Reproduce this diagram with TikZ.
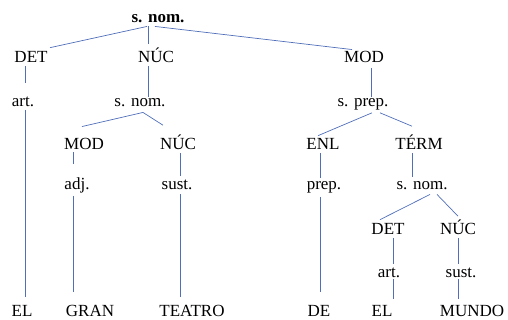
\documentclass[tikz,border=0pt]{standalone}
\usepackage{fontspec}
\setmainfont{Liberation Serif}
\usetikzlibrary{arrows}

\definecolor{ramablue}{RGB}{80,110,185}

\begin{document}
\begin{tikzpicture}[x=1pt, y=-1pt,
    lab/.style={anchor=base, inner sep=1pt, font=\fontsize{17}{20}\selectfont},
    link/.style={ramablue, line width=0.7pt}]
    \useasboundingbox (0,0) rectangle (508,320);

    % Raiz
    \node[lab, font=\fontsize{17}{20}\selectfont\bfseries] (s0) at (158,23) {s. nom.};

    % Primer nivel
    \node[lab] (det1) at (31,63) {DET};
    \node[lab] (nuc1) at (156,63) {NÚC};
    \node[lab] (mod1) at (364,63) {MOD};

    \node[lab] (art1) at (23,107) {art.};
    \node[lab] (snom2) at (140,107) {s. nom.};
    \node[lab] (sprep) at (363,107) {s. prep.};

    % Segundo nivel
    \node[lab] (mod2) at (84,150) {MOD};
    \node[lab] (nuc2) at (178,150) {NÚC};
    \node[lab] (enl) at (323,150) {ENL};
    \node[lab] (term) at (419,150) {TÉRM};

    \node[lab] (adj) at (77,190) {adj.};
    \node[lab] (sust1) at (177,190) {sust.};
    \node[lab] (prep) at (324,190) {prep.};
    \node[lab] (snom3) at (422,190) {s. nom.};

    % Tercer nivel
    \node[lab] (det2) at (388,235) {DET};
    \node[lab] (nuc3) at (458,235) {NÚC};
    \node[lab] (art2) at (389,277) {art.};
    \node[lab] (sust2) at (461,277) {sust.};

    % Palabras
    \node[lab] (w1) at (22,316) {EL};
    \node[lab] (w2) at (90,316) {GRAN};
    \node[lab] (w3) at (192,316) {TEATRO};
    \node[lab] (w4) at (319,316) {DE};
    \node[lab] (w5) at (382,316) {EL};
    \node[lab] (w6) at (472,316) {MUNDO};

    % Ramas de la raiz
    \draw[link] ([xshift=-11pt,yshift=-2pt]s0.south) -- ([xshift=19pt,yshift=3pt]det1.north);
    \draw[link] ([xshift=-10pt,yshift=-2pt]s0.south) -- ([xshift=-8pt,yshift=3pt]nuc1.north);
    \draw[link] ([xshift=-3pt,yshift=-2pt]s0.south) -- ([xshift=-12pt,yshift=1pt]mod1.north);

    % DET - art. - EL
    \draw[link] ([xshift=-6pt,yshift=-2pt]det1.south) -- ([xshift=2pt,yshift=13pt]art1.north);
    \draw[link] ([xshift=2pt,yshift=-2pt]art1.south) -- ([xshift=3pt,yshift=7pt]w1.north);

    % NUC - s. nom.
    \draw[link] ([xshift=-8pt,yshift=-2pt]nuc1.south) -- ([xshift=8pt,yshift=1pt]snom2.north);
    \draw[link] ([xshift=3pt,yshift=-4pt]snom2.south) -- ([xshift=-2pt,yshift=11pt]mod2.north);
    \draw[link] ([xshift=3pt,yshift=-4pt]snom2.south) -- ([xshift=-15pt,yshift=9pt]nuc2.north);
    \draw[link] ([xshift=-11pt,yshift=-1pt]mod2.south) -- ([xshift=-4pt,yshift=13pt]adj.north);
    \draw[link] ([xshift=-4pt,yshift=-1pt]adj.south) -- ([xshift=-17pt,yshift=12pt]w2.north);
    \draw[link] ([xshift=2pt,yshift=-2pt]nuc2.south) -- ([xshift=3pt,yshift=3pt]sust1.north);
    \draw[link] ([xshift=3pt,yshift=-3pt]sust1.south) -- ([xshift=-12pt,yshift=7pt]w3.north);

    % MOD - s. prep.
    \draw[link] ([xshift=7pt,yshift=-4pt]mod1.south) -- ([xshift=8pt,yshift=1pt]sprep.north);
    \draw[link] ([xshift=9pt,yshift=-1pt]sprep.south) -- ([xshift=-5pt,yshift=2pt]enl.north);
    \draw[link] ([xshift=17pt,yshift=-1pt]sprep.south) -- ([xshift=-7pt,yshift=8pt]term.north);
    \draw[link] ([xshift=-3pt,yshift=-2pt]enl.south) -- ([xshift=-4pt,yshift=3pt]prep.north);
    \draw[link] ([xshift=-4pt,yshift=-2pt]prep.south) -- ([xshift=1pt,yshift=12pt]w4.north);
    \draw[link] ([xshift=-7pt,yshift=-2pt]term.south) -- ([xshift=-10pt,yshift=4pt]snom3.north);
    \draw[link] ([xshift=8pt,yshift=-3pt]snom3.south) -- ([xshift=-8pt,yshift=3pt]det2.north);
    \draw[link] ([xshift=15pt,yshift=-3pt]snom3.south) -- ([xshift=0pt,yshift=3pt]nuc3.north);
    \draw[link] ([xshift=5pt,yshift=-2pt]det2.south) -- ([xshift=4pt,yshift=2pt]art2.north);
    \draw[link] ([xshift=4pt,yshift=-1pt]art2.south) -- ([xshift=11pt,yshift=5pt]w5.north);
    \draw[link] ([xshift=0pt,yshift=-2pt]nuc3.south) -- ([xshift=-3pt,yshift=2pt]sust2.north);
    \draw[link] ([xshift=-3pt,yshift=-1pt]sust2.south) -- ([xshift=-14pt,yshift=5pt]w6.north);
\end{tikzpicture}
\end{document}
